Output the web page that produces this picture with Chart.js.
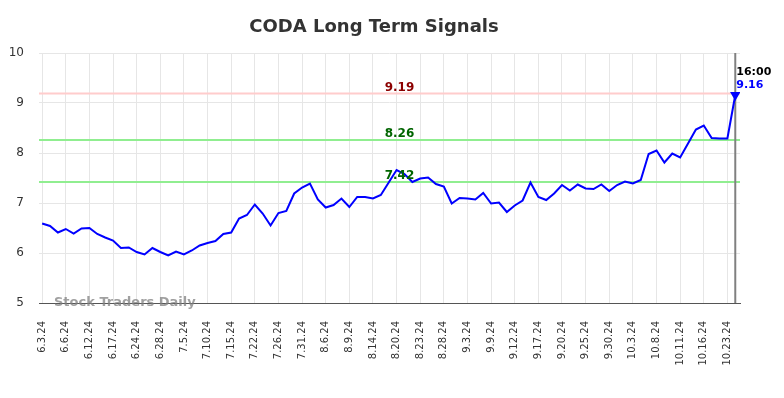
<!DOCTYPE html>
<html>
<head>
<meta charset="utf-8">
<script src="https://cdn.jsdelivr.net/npm/chart.js@4"></script>
<style>
  body { margin: 0; background: #fff; }
  #wrap { width: 784px; height: 398px; }
</style>
</head>
<body>
<div id="wrap"><canvas id="signalChart" width="784" height="398"></canvas></div>
<script>
// daily closes, one tick label every 3 sessions
const tickLabels = ['6.3.24', '6.6.24', '6.12.24', '6.17.24', '6.24.24', '6.28.24', '7.5.24', '7.10.24',
    '7.15.24', '7.22.24', '7.26.24', '7.31.24', '8.6.24', '8.9.24', '8.14.24', '8.20.24', '8.23.24',
    '8.28.24', '9.3.24', '9.9.24', '9.12.24', '9.17.24', '9.20.24', '9.25.24', '9.30.24', '10.3.24',
    '10.8.24', '10.11.24', '10.16.24', '10.23.24'];
const tickEvery = 3;

const prices = [6.59, 6.54, 6.41, 6.48, 6.39, 6.49, 6.50, 6.38, 6.31, 6.25,
    6.10, 6.11, 6.02, 5.97, 6.10, 6.02, 5.95, 6.03, 5.97, 6.05,
    6.15, 6.20, 6.24, 6.38, 6.41, 6.69, 6.76, 6.97, 6.79, 6.55,
    6.80, 6.84, 7.19, 7.31, 7.39, 7.07, 6.91, 6.96, 7.09, 6.92,
    7.12, 7.12, 7.09, 7.16, 7.41, 7.66, 7.58, 7.42, 7.49, 7.51,
    7.38, 7.33, 6.99, 7.10, 7.09, 7.07, 7.20, 6.99, 7.01, 6.82,
    6.95, 7.05, 7.41, 7.12, 7.06, 7.19, 7.36, 7.25, 7.37, 7.29,
    7.28, 7.37, 7.24, 7.36, 7.43, 7.39, 7.46, 7.98, 8.05, 7.81,
    7.99, 7.91, 8.19, 8.47, 8.55, 8.30, 8.29, 8.29, 9.16];

const levels = [9.19, 8.26, 7.42];
const levelLineColors = ['#ffcccc', '#90ee90', '#90ee90'];
const levelTextColors = ['#8b0000', '#006400', '#006400'];
const lastTime = '16:00';

const lastIdx = prices.length - 1;
const points = prices.map((p, i) => ({ x: i, y: p }));

const levelsPlugin = {
    id: 'levels',
    beforeDatasetsDraw(chart) {
        const { ctx, chartArea, scales } = chart;
        ctx.save();
        ctx.lineWidth = 2;
        levels.forEach((lv, i) => {
            const y = scales.y.getPixelForValue(lv);
            ctx.strokeStyle = levelLineColors[i];
            ctx.beginPath();
            ctx.moveTo(chartArea.left, y);
            ctx.lineTo(chartArea.right, y);
            ctx.stroke();
        });
        // marker for the last session
        const lx = scales.x.getPixelForValue(lastIdx);
        ctx.strokeStyle = '#808080';
        ctx.beginPath();
        ctx.moveTo(lx, chartArea.top);
        ctx.lineTo(lx, chartArea.bottom);
        ctx.stroke();
        ctx.restore();
    },
    afterDatasetsDraw(chart) {
        const { ctx, chartArea, scales } = chart;
        ctx.save();
        ctx.font = 'bold 12px "DejaVu Sans"';
        ctx.textAlign = 'center';
        ctx.textBaseline = 'alphabetic';
        const cx = (chartArea.left + chartArea.right) / 2 + 10;
        levels.forEach((lv, i) => {
            const y = scales.y.getPixelForValue(lv);
            ctx.fillStyle = levelTextColors[i];
            ctx.fillText(lv.toFixed(2), cx, y - 3);
        });
        const lx = scales.x.getPixelForValue(lastIdx);
        const ly = scales.y.getPixelForValue(prices[lastIdx]);
        ctx.font = 'bold 11px "DejaVu Sans"';
        ctx.textAlign = 'left';
        ctx.fillStyle = '#000';
        ctx.fillText(lastTime, lx + 1, ly - 20);
        ctx.fillStyle = '#0000ff';
        ctx.fillText(prices[lastIdx].toFixed(2), lx + 1, ly - 7);
        ctx.restore();
    },
    afterDraw(chart) {
        const { ctx, chartArea } = chart;
        ctx.save();
        ctx.font = 'bold 18px "DejaVu Sans"';
        ctx.fillStyle = '#333';
        ctx.textAlign = 'center';
        ctx.fillText('CODA Long Term Signals', 374, 32);
        ctx.font = 'bold 13px "DejaVu Sans"';
        ctx.fillStyle = 'rgba(128,128,128,0.75)';
        ctx.textAlign = 'left';
        ctx.textBaseline = 'middle';
        ctx.fillText('Stock Traders Daily', chartArea.left + 15, chartArea.bottom);
        ctx.restore();
    }
};

new Chart(document.getElementById('signalChart').getContext('2d'), {
    type: 'line',
    data: {
        datasets: [{
            data: points,
            borderColor: '#0000ff',
            backgroundColor: '#0000ff',
            borderWidth: 2,
            tension: 0,
            pointStyle: 'triangle',
            pointRotation: 180,
            pointRadius: ctx => ctx.dataIndex === lastIdx ? 4 : 0,
            pointHoverRadius: 0
        }]
    },
    options: {
        responsive: false,
        animation: false,
        layout: { padding: { top: 53, right: 44, left: 0, bottom: 0 } },
        plugins: { legend: { display: false }, tooltip: { enabled: false } },
        scales: {
            x: {
                type: 'linear',
                min: -0.4,
                max: 88.6,
                afterBuildTicks: s => {
                    s.ticks = tickLabels.map((_, i) => ({ value: i * tickEvery }));
                },
                afterFit: s => { s.height = 95; },
                grid: { color: '#e6e6e6', drawTicks: false },
                border: { display: true, color: '#555', width: 1 },
                ticks: {
                    autoSkip: false,
                    maxRotation: 90,
                    minRotation: 90,
                    padding: 18,
                    color: '#333',
                    font: { family: 'DejaVu Sans', size: 10 },
                    callback: (v, i) => tickLabels[i]
                }
            },
            y: {
                min: 5,
                max: 10,
                afterFit: s => { s.width = 39; },
                grid: {
                    color: ctx => ctx.tick && ctx.tick.value === 5 ? 'rgba(0,0,0,0)' : '#e6e6e6',
                    drawTicks: false
                },
                border: { display: false },
                ticks: {
                    stepSize: 1,
                    padding: 15,
                    color: '#333',
                    font: { family: 'DejaVu Sans', size: 12 }
                }
            }
        }
    },
    plugins: [levelsPlugin]
});
</script>
</body>
</html>
